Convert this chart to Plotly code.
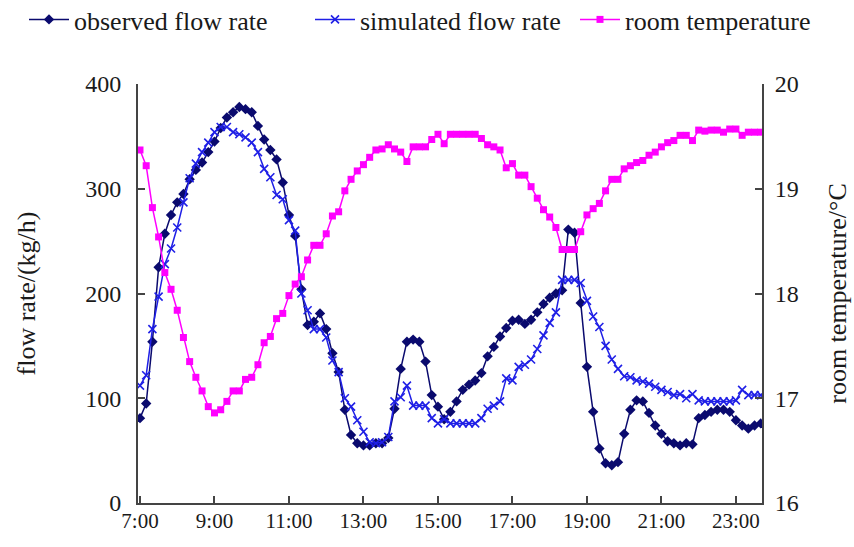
import plotly.graph_objects as go

# time grid: every 10 minutes from 7:00 to 23:40
times = [f"{7 + m // 60}:{m % 60:02d}" for m in range(0, 1001, 10)]

observed = [81, 95, 154, 225, 257, 275, 287, 295, 309, 318,
            325, 335, 345, 358, 368, 373, 378, 376, 373, 360,
            347, 337, 328, 306, 275, 255, 204, 170, 173, 181,
            166, 143, 125, 89, 65, 57, 55, 55, 57, 57,
            62, 90, 128, 154, 156, 154, 135, 103, 92, 80,
            87, 97, 108, 113, 117, 124, 140, 149, 159, 167,
            174, 175, 171, 175, 182, 190, 196, 200, 203, 261,
            258, 191, 130, 87, 52, 38, 36, 39, 66, 89,
            98, 97, 86, 74, 66, 59, 57, 55, 57, 56,
            81, 84, 87, 89, 89, 87, 79, 74, 71, 74, 76]

simulated = [112, 122, 166, 197, 228, 243, 263, 287, 310, 324,
             335, 344, 354, 359, 359, 354, 352, 349, 344, 335,
             319, 311, 294, 290, 270, 260, 200, 184, 166, 166,
             158, 136, 125, 100, 92, 79, 68, 58, 57, 58,
             63, 97, 101, 112, 93, 93, 93, 81, 76, 80,
             76, 76, 76, 76, 76, 81, 90, 93, 97, 119,
             117, 130, 132, 137, 147, 160, 172, 182, 213, 213,
             213, 210, 193, 178, 168, 150, 137, 128, 121, 120,
             117, 116, 114, 111, 108, 106, 103, 104, 100, 104,
             98, 97, 97, 97, 97, 97, 98, 108, 103, 103, 103]

room_temp = [19.37, 19.22, 18.82, 18.54, 18.20, 18.04, 17.84, 17.58, 17.35, 17.20,
             17.07, 16.92, 16.86, 16.89, 16.97, 17.07, 17.07, 17.18, 17.20, 17.32,
             17.53, 17.59, 17.76, 17.81, 17.98, 18.09, 18.16, 18.32, 18.46, 18.46,
             18.57, 18.74, 18.78, 18.98, 19.09, 19.17, 19.23, 19.30, 19.37, 19.38,
             19.42, 19.38, 19.35, 19.26, 19.40, 19.40, 19.40, 19.47, 19.52, 19.43,
             19.52, 19.52, 19.52, 19.52, 19.52, 19.48, 19.42, 19.40, 19.37, 19.20,
             19.24, 19.13, 19.13, 19.02, 18.91, 18.80, 18.73, 18.63, 18.42, 18.42,
             18.42, 18.59, 18.75, 18.81, 18.86, 18.98, 19.09, 19.09, 19.19, 19.22,
             19.25, 19.27, 19.32, 19.35, 19.40, 19.44, 19.46, 19.51, 19.51, 19.46,
             19.56, 19.55, 19.56, 19.56, 19.54, 19.57, 19.57, 19.51, 19.54, 19.54, 19.54]

x_ticks = ["7:00", "9:00", "11:00", "13:00", "15:00", "17:00", "19:00", "21:00", "23:00"]
flow_ticks = [0, 100, 200, 300, 400]
temp_ticks = [16, 17, 18, 19, 20]

FONT = "Liberation Serif"
TXT = "#1a1a1a"
AX = "#444444"

fig = go.Figure()
fig.add_trace(go.Scatter(
    x=times, y=observed, name="observed flow rate", mode="lines+markers",
    line=dict(color="#0a0a6e", width=1.5),
    marker=dict(symbol="diamond", size=8, color="#0a0a6e"),
    legend="legend", showlegend=True))
fig.add_trace(go.Scatter(
    x=times, y=simulated, name="simulated flow rate", mode="lines+markers",
    line=dict(color="#1f1fe6", width=1.5),
    marker=dict(symbol="x-thin", size=8, color="#1f1fe6",
                line=dict(color="#1f1fe6", width=1.6)),
    legend="legend2", showlegend=True))
fig.add_trace(go.Scatter(
    x=times, y=room_temp, name="room temperature", mode="lines+markers",
    line=dict(color="#ff00ff", width=1.5),
    marker=dict(symbol="square", size=7, color="#ff00ff"),
    yaxis="y2", legend="legend3", showlegend=True))

W, H = 854, 547
L, R, T, B = 138, 92, 84, 44
pw = W - L - R
ph = H - T - B


def lx(px):
    return (px - L) / pw


leg_common = dict(orientation="h", yanchor="top", y=1 + (T + 4) / ph,
                  xanchor="left", font=dict(family=FONT, size=26, color=TXT),
                  bgcolor="rgba(0,0,0,0)", borderwidth=0, itemwidth=40)

fig.update_layout(
    width=W, height=H,
    margin=dict(l=L, r=R, t=T, b=B, autoexpand=False),
    paper_bgcolor="white", plot_bgcolor="white",
    font=dict(family=FONT, color=TXT),
    showlegend=True,
    hovermode=False,
    legend=dict(x=lx(24), **leg_common),
    legend2=dict(x=lx(310), **leg_common),
    legend3=dict(x=lx(575), **leg_common),
    xaxis=dict(
        type="category", categoryorder="array", categoryarray=times,
        range=[-0.32, 100.2],
        tickmode="array", tickvals=x_ticks, ticktext=x_ticks,
        ticks="inside", ticklen=7, tickwidth=1.5, tickcolor=AX,
        showline=True, linecolor=AX, linewidth=2, mirror=False,
        showgrid=False, zeroline=False, automargin=False,
        tickfont=dict(family=FONT, size=21, color=TXT),
        ticklabelstandoff=-2,
    ),
    yaxis=dict(
        range=[0, 400], tickvals=flow_ticks,
        ticks="inside", ticklen=7, tickwidth=1.5, tickcolor=AX,
        showline=True, linecolor=AX, linewidth=2,
        showgrid=False, zeroline=False, automargin=False,
        tickfont=dict(family=FONT, size=24, color=TXT),
        ticklabelstandoff=10,
        title=dict(text="flow rate/(kg/h)", font=dict(family=FONT, size=26, color=TXT),
                   standoff=42),
    ),
    yaxis2=dict(
        range=[16, 20], tickvals=temp_ticks, overlaying="y", side="right",
        ticks="inside", ticklen=7, tickwidth=1.5, tickcolor=AX,
        showline=True, linecolor=AX, linewidth=2,
        showgrid=False, zeroline=False, automargin=False,
        tickfont=dict(family=FONT, size=24, color=TXT),
        ticklabelstandoff=6,
        title=dict(text="room temperature/°C", font=dict(family=FONT, size=26, color=TXT),
                   standoff=30),
    ),
)

fig.write_html(
    "out.html",
    config={"displayModeBar": False},
    post_script="document.body.style.margin='0';document.body.style.overflow='hidden';",
)
